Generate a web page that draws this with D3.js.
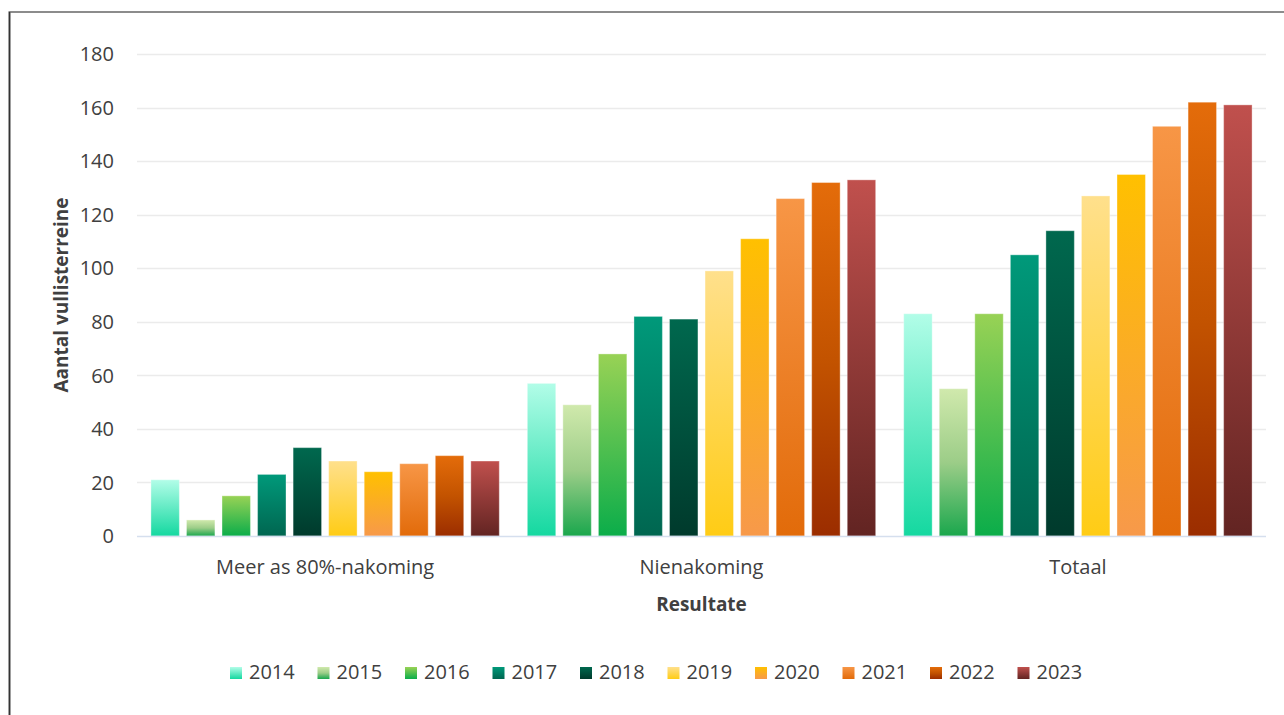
<!DOCTYPE html>
<html>
<head>
<meta charset="utf-8">
<title>Aantal vullisterreine</title>
<script src="https://d3js.org/d3.v7.min.js"></script>
<style>
  body { margin: 0; background: #fff; }
  svg text { font-family: "Open Sans", sans-serif; fill: #404040; }
</style>
</head>
<body>
<div id="chart"></div>
<script>
// data
var years = ["2014", "2015", "2016", "2017", "2018", "2019", "2020", "2021", "2022", "2023"];
var categories = ["Meer as 80%-nakoming", "Nienakoming", "Totaal"];
var meerAs80 = [21, 6, 15, 23, 33, 28, 24, 27, 30, 28];
var nienakoming = [57, 49, 68, 82, 81, 99, 111, 126, 132, 133];
var totaal = [83, 55, 83, 105, 114, 127, 135, 153, 162, 161];
var yTicks = [0, 20, 40, 60, 80, 100, 120, 140, 160, 180];

var seriesByCat = [meerAs80, nienakoming, totaal];

// gradient stops per year (top -> bottom)
var gradStops = [
  ["#b2fde8", "#14d8a0"],
  ["#d0e9ac", "#9ccd88", "#1aa74d"],
  ["#98d255", "#0bad4a"],
  ["#00997a", "#006650"],
  ["#00684e", "#003a2c"],
  ["#ffe08c", "#ffcc15"],
  ["#ffc000", "#f7994a"],
  ["#f79646", "#e26b0a"],
  ["#e46c0a", "#c35300", "#9b2d00"],
  ["#c0504d", "#622422"]
];

var W = 1284, H = 715;
var svg = d3.select("#chart").append("svg")
  .attr("width", W).attr("height", H);

// frame
svg.append("rect")
  .attr("x", 9.5).attr("y", 12)
  .attr("width", W + 10).attr("height", H + 10)
  .attr("fill", "none").attr("stroke", "#8c8c8c").attr("stroke-width", 2);
svg.append("line")
  .attr("x1", 9.5).attr("x2", 9.5).attr("y1", 12).attr("y2", H)
  .attr("stroke", "#333").attr("stroke-width", 1.5);

var defs = svg.append("defs");
gradStops.forEach(function(stops, i) {
  var g = defs.append("linearGradient")
    .attr("id", "grad" + i)
    .attr("x1", 0).attr("y1", 0).attr("x2", 0).attr("y2", 1);
  stops.forEach(function(c, j) {
    g.append("stop")
      .attr("offset", (j / (stops.length - 1)) * 100 + "%")
      .attr("stop-color", c);
  });
});

var plotLeft = 137, plotRight = 1266, plotTop = 54, plotBottom = 536;

var y = d3.scaleLinear().domain([0, 180]).range([plotBottom, plotTop]);

var x0 = d3.scaleBand().domain(categories).range([plotLeft, plotRight])
  .paddingInner(0.0745).paddingOuter(0.037);

var x1 = d3.scaleBand().domain(years).range([0, x0.bandwidth()])
  .paddingInner(0.2);

// grid
svg.append("g").selectAll("line")
  .data(yTicks.slice(1))
  .enter().append("line")
    .attr("x1", plotLeft).attr("x2", plotRight)
    .attr("y1", function(d) { return Math.round(y(d)) + 0.5; })
    .attr("y2", function(d) { return Math.round(y(d)) + 0.5; })
    .attr("stroke", "#ebebeb").attr("stroke-width", 1.5);

// y tick labels
svg.append("g").selectAll("text")
  .data(yTicks)
  .enter().append("text")
    .attr("x", 114)
    .attr("y", function(d) { return y(d); })
    .attr("dy", "0.36em")
    .attr("text-anchor", "end")
    .style("font-size", "20px")
    .text(function(d) { return d; });

// bars
var groups = svg.append("g").selectAll("g")
  .data(categories)
  .enter().append("g")
    .attr("transform", function(d) { return "translate(" + x0(d) + ",0)"; });

groups.selectAll("rect")
  .data(function(d, ci) {
    return years.map(function(yr, i) { return { year: yr, i: i, v: seriesByCat[ci][i] }; });
  })
  .enter().append("rect")
    .attr("x", function(d) { return x1(d.year); })
    .attr("y", function(d) { return y(d.v); })
    .attr("width", x1.bandwidth())
    .attr("height", function(d) { return plotBottom - y(d.v); })
    .attr("fill", function(d) { return "url(#grad" + d.i + ")"; })
    .attr("stroke", "rgba(255,255,255,0.35)")
    .attr("stroke-width", 1);

// baseline
svg.append("line")
  .attr("x1", plotLeft).attr("x2", plotRight)
  .attr("y1", plotBottom + 0.5).attr("y2", plotBottom + 0.5)
  .attr("stroke", "#d5dfee").attr("stroke-width", 1.5);

// x labels
svg.append("g").selectAll("text")
  .data(categories)
  .enter().append("text")
    .attr("x", function(d) { return x0(d) + x0.bandwidth() / 2; })
    .attr("y", 574)
    .attr("text-anchor", "middle")
    .style("font-size", "20px")
    .text(function(d) { return d; });

// axis titles
svg.append("text")
  .attr("x", (plotLeft + plotRight) / 2).attr("y", 611)
  .attr("text-anchor", "middle")
  .style("font-size", "19px").style("font-weight", "bold")
  .text("Resultate");

svg.append("text")
  .attr("transform", "translate(68,295) rotate(-90)")
  .attr("text-anchor", "middle")
  .style("font-size", "19px").style("font-weight", "bold")
  .text("Aantal vullisterreine");

// legend
var legend = svg.append("g").selectAll("g")
  .data(years)
  .enter().append("g")
    .attr("transform", function(d, i) { return "translate(" + (230 + i * 87.5) + ",667)"; });

legend.append("rect")
  .attr("width", 12).attr("height", 12)
  .attr("fill", function(d, i) { return "url(#grad" + i + ")"; });

legend.append("text")
  .attr("x", 19).attr("y", 12)
  .style("font-size", "20px")
  .text(function(d) { return d; });
</script>
</body>
</html>
